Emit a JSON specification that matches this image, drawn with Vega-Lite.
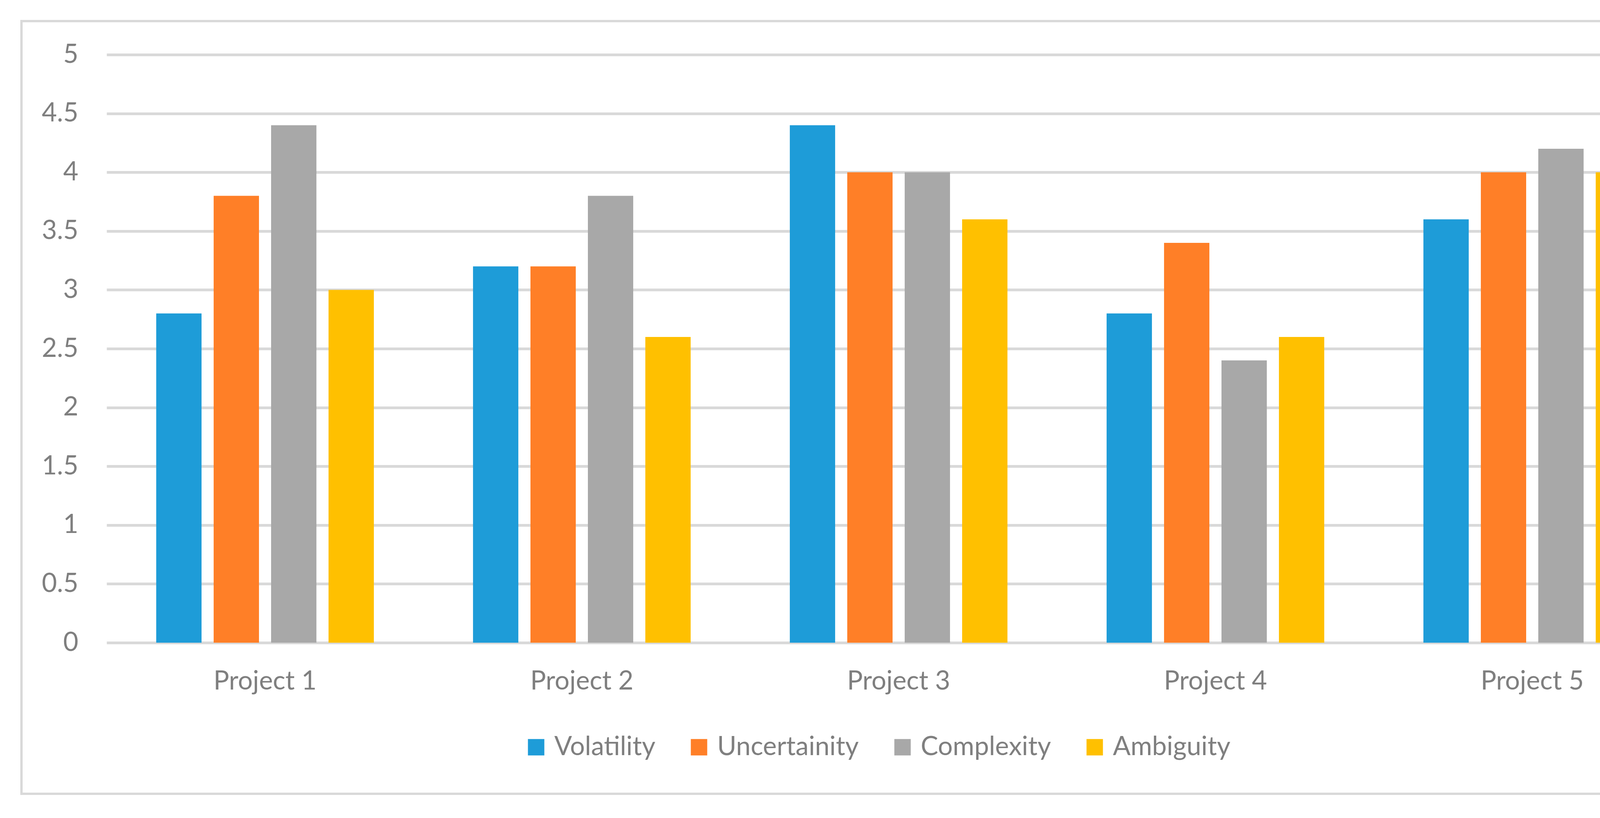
{
  "$schema": "https://vega.github.io/schema/vega-lite/v6.json",
  "width": 4360,
  "height": 1979,
  "autosize": "none",
  "padding": {"left": 55, "top": 54, "right": 58, "bottom": 62},
  "background": "#ffffff",
  "config": {
    "font": "Lato",
    "view": {"stroke": "#d9d9d9", "strokeWidth": 6}
  },
  "data": {
    "values": [
      {"project": "Project 1", "dimension": "Volatility", "value": 2.8},
      {"project": "Project 1", "dimension": "Uncertainity", "value": 3.8},
      {"project": "Project 1", "dimension": "Complexity", "value": 4.4},
      {"project": "Project 1", "dimension": "Ambiguity", "value": 3.0},
      {"project": "Project 2", "dimension": "Volatility", "value": 3.2},
      {"project": "Project 2", "dimension": "Uncertainity", "value": 3.2},
      {"project": "Project 2", "dimension": "Complexity", "value": 3.8},
      {"project": "Project 2", "dimension": "Ambiguity", "value": 2.6},
      {"project": "Project 3", "dimension": "Volatility", "value": 4.4},
      {"project": "Project 3", "dimension": "Uncertainity", "value": 4.0},
      {"project": "Project 3", "dimension": "Complexity", "value": 4.0},
      {"project": "Project 3", "dimension": "Ambiguity", "value": 3.6},
      {"project": "Project 4", "dimension": "Volatility", "value": 2.8},
      {"project": "Project 4", "dimension": "Uncertainity", "value": 3.4},
      {"project": "Project 4", "dimension": "Complexity", "value": 2.4},
      {"project": "Project 4", "dimension": "Ambiguity", "value": 2.6},
      {"project": "Project 5", "dimension": "Volatility", "value": 3.6},
      {"project": "Project 5", "dimension": "Uncertainity", "value": 4.0},
      {"project": "Project 5", "dimension": "Complexity", "value": 4.2},
      {"project": "Project 5", "dimension": "Ambiguity", "value": 4.0}
    ]
  },
  "mark": {"type": "bar"},
  "encoding": {
    "x": {
      "field": "project",
      "type": "nominal",
      "scale": {"range": [218, 4273], "paddingInner": 0.313, "paddingOuter": 0.1565},
      "axis": {
        "title": null,
        "orient": "bottom",
        "offset": -387,
        "domain": false,
        "ticks": false,
        "tickSize": 0,
        "grid": false,
        "labelAngle": 0,
        "labelFontSize": 67,
        "labelColor": "#7f7f7f",
        "labelBaseline": "alphabetic",
        "labelPadding": 119,
        "labelLimit": 1000
      }
    },
    "xOffset": {
      "field": "dimension",
      "type": "nominal",
      "scale": {"domain": ["Volatility", "Uncertainity", "Complexity", "Ambiguity"], "paddingInner": 0.211, "paddingOuter": 0}
    },
    "y": {
      "field": "value",
      "type": "quantitative",
      "scale": {"domain": [0, 5], "range": [1592, 86], "nice": false, "zero": false},
      "axis": {
        "title": null,
        "orient": "left",
        "offset": -145,
        "values": [0, 0.5, 1, 1.5, 2, 2.5, 3, 3.5, 4, 4.5, 5],
        "format": "~g",
        "domain": false,
        "ticks": false,
        "tickSize": 0,
        "grid": true,
        "gridColor": "#d9d9d9",
        "gridWidth": 7,
        "labelFontSize": 67,
        "labelColor": "#7f7f7f",
        "labelPadding": 0,
        "labelBaseline": "middle"
      }
    },
    "color": {
      "field": "dimension",
      "type": "nominal",
      "scale": {
        "domain": ["Volatility", "Uncertainity", "Complexity", "Ambiguity"],
        "range": ["#1e9cd8", "#ff7f27", "#a8a8a8", "#ffc000"]
      },
      "legend": {
        "title": null,
        "orient": "none",
        "direction": "horizontal",
        "legendX": 1284,
        "legendY": 1826,
        "symbolType": "square",
        "symbolSize": 1764,
        "symbolStrokeWidth": 0,
        "symbolOpacity": 1,
        "labelFontSize": 67,
        "labelColor": "#7f7f7f",
        "labelOffset": 13,
        "columnPadding": 78,
        "labelLimit": 1000
      }
    }
  }
}
